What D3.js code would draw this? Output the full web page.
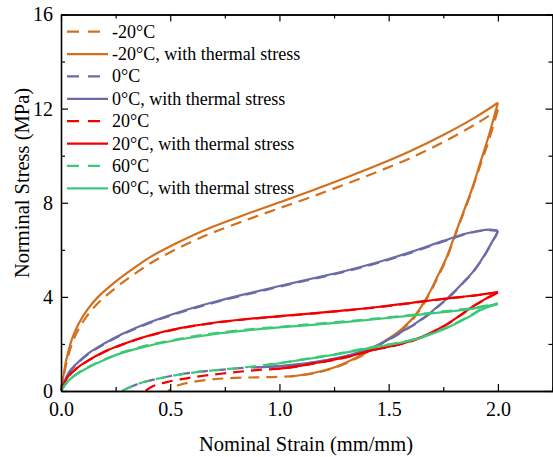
<!DOCTYPE html>
<html>
<head>
<meta charset="utf-8">
<script src="https://cdn.jsdelivr.net/npm/d3@7"></script>
<style>
  body { margin: 0; background: #fff; }
  text { font-family: 'Liberation Serif', 'Times New Roman', serif; fill: #000; }
</style>
</head>
<body>
<svg id="chart"></svg>
<script>
// strain (mm/mm), stress (MPa) pairs
const m20Load = [[0,0],[0.01,0.6],[0.025,1.35],[0.05,2.2],[0.08,2.85],[0.12,3.45],[0.17,4.0],[0.25,4.65],[0.33,5.2],[0.41,5.7],[0.5,6.15],[0.6,6.6],[0.7,7.0],[0.85,7.52],[1.0,8.02],[1.15,8.52],[1.3,9.05],[1.45,9.6],[1.6,10.2],[1.75,10.88],[1.9,11.65],[2.0,12.25]];
const m20LoadDash = [[0,0],[0.01,0.5],[0.025,1.2],[0.05,2.0],[0.08,2.62],[0.12,3.2],[0.17,3.74],[0.25,4.38],[0.33,4.93],[0.41,5.43],[0.5,5.9],[0.6,6.35],[0.7,6.75],[0.85,7.27],[1.0,7.77],[1.15,8.26],[1.3,8.78],[1.45,9.32],[1.6,9.9],[1.75,10.58],[1.9,11.35],[2.0,11.95]];
const m20Unload = [[2.0,12.25],[1.96,10.9],[1.916,9.6],[1.88,8.55],[1.84,7.55],[1.8,6.55],[1.764,5.65],[1.72,4.8],[1.688,4.2],[1.65,3.6],[1.611,3.1],[1.57,2.72],[1.535,2.45],[1.47,2.05],[1.4,1.65],[1.32,1.27],[1.25,1.0],[1.18,0.82],[1.1,0.68],[1.05,0.62]];
const m20UnloadDash = [[2.0,11.95],[1.96,10.7],[1.916,9.5],[1.88,8.5],[1.84,7.5],[1.8,6.5],[1.764,5.6],[1.72,4.75],[1.688,4.15],[1.65,3.55],[1.611,3.05],[1.57,2.68],[1.535,2.42],[1.47,2.02],[1.4,1.62],[1.32,1.24],[1.25,0.98],[1.18,0.8],[1.1,0.67],[1.0,0.6],[0.9,0.58],[0.8,0.56],[0.7,0.5],[0.6,0.38],[0.53,0.22],[0.49,0]];

const p0Load = [[0,0],[0.033,0.75],[0.07,1.15],[0.125,1.6],[0.2,2.03],[0.28,2.42],[0.4,2.9],[0.55,3.38],[0.7,3.78],[0.85,4.13],[1.0,4.46],[1.15,4.78],[1.3,5.1],[1.45,5.47],[1.6,5.9],[1.75,6.38],[1.85,6.68],[1.92,6.82],[1.96,6.86],[2.0,6.82]];
const p0LoadDash = [[0,0],[0.033,0.72],[0.07,1.12],[0.125,1.57],[0.2,2.0],[0.28,2.39],[0.4,2.87],[0.55,3.35],[0.7,3.75],[0.85,4.1],[1.0,4.43],[1.15,4.75],[1.3,5.07],[1.45,5.44],[1.6,5.87],[1.75,6.35],[1.85,6.66],[1.92,6.8],[1.96,6.84],[2.0,6.8]];
const p0Unload = [[2.0,6.82],[1.99,6.6],[1.977,6.4],[1.95,5.95],[1.916,5.45],[1.88,5.0],[1.84,4.6],[1.8,4.22],[1.764,3.9],[1.72,3.56],[1.688,3.3],[1.65,3.05],[1.611,2.8],[1.57,2.58],[1.535,2.38],[1.5,2.2],[1.46,2.0],[1.4,1.76],[1.32,1.53],[1.25,1.38],[1.17,1.25],[1.1,1.15],[1.0,1.06],[0.88,1.0]];
const p0UnloadDash = [[2.0,6.8],[1.99,6.58],[1.977,6.38],[1.95,5.93],[1.916,5.43],[1.88,4.98],[1.84,4.58],[1.8,4.2],[1.764,3.88],[1.72,3.54],[1.688,3.28],[1.65,3.03],[1.611,2.78],[1.57,2.56],[1.535,2.36],[1.5,2.18],[1.46,1.98],[1.4,1.74],[1.32,1.51],[1.25,1.36],[1.17,1.23],[1.1,1.13],[1.0,1.05],[0.864,1.0],[0.758,0.92],[0.636,0.82],[0.529,0.68],[0.453,0.54],[0.361,0.33],[0.277,0]];

const r20Load = [[0,0],[0.033,0.62],[0.07,0.95],[0.125,1.3],[0.2,1.68],[0.28,1.98],[0.4,2.35],[0.55,2.68],[0.7,2.9],[0.85,3.06],[1.0,3.18],[1.15,3.3],[1.3,3.43],[1.45,3.57],[1.6,3.74],[1.75,3.92],[1.9,4.07],[2.0,4.2]];
const r20LoadDash = [[0,0],[0.033,0.61],[0.07,0.94],[0.125,1.29],[0.2,1.67],[0.28,1.97],[0.4,2.34],[0.55,2.67],[0.7,2.89],[0.85,3.05],[1.0,3.17],[1.15,3.29],[1.3,3.42],[1.45,3.56],[1.6,3.73],[1.75,3.91],[1.9,4.06],[2.0,4.19]];
const r20Unload = [[2.0,4.2],[1.95,3.95],[1.9,3.68],[1.84,3.3],[1.8,3.04],[1.764,2.82],[1.72,2.6],[1.688,2.45],[1.65,2.29],[1.611,2.15],[1.56,2.01],[1.5,1.88],[1.44,1.77],[1.398,1.67],[1.32,1.47],[1.25,1.33],[1.17,1.2],[1.1,1.08],[1.0,0.95]];
const r20UnloadDash = [[2.0,4.19],[1.95,3.94],[1.9,3.67],[1.84,3.29],[1.8,3.03],[1.764,2.81],[1.72,2.59],[1.688,2.44],[1.65,2.28],[1.611,2.14],[1.56,2.0],[1.5,1.87],[1.44,1.76],[1.398,1.66],[1.32,1.46],[1.25,1.32],[1.17,1.19],[1.1,1.07],[1.017,0.96],[0.895,0.89],[0.788,0.79],[0.68,0.68],[0.575,0.54],[0.483,0.38],[0.42,0.2],[0.385,0]];

const g60Load = [[0,0],[0.033,0.42],[0.07,0.7],[0.125,1.0],[0.2,1.33],[0.28,1.62],[0.4,1.92],[0.55,2.2],[0.7,2.42],[0.85,2.58],[1.0,2.7],[1.15,2.81],[1.3,2.93],[1.45,3.06],[1.6,3.2],[1.75,3.35],[1.9,3.52],[2.0,3.7]];
const g60LoadDash = [[0,0],[0.033,0.44],[0.07,0.72],[0.125,1.02],[0.2,1.35],[0.28,1.64],[0.4,1.95],[0.55,2.23],[0.7,2.45],[0.85,2.61],[1.0,2.73],[1.15,2.84],[1.3,2.96],[1.45,3.09],[1.6,3.23],[1.75,3.38],[1.9,3.55],[2.0,3.72]];
const g60Unload = [[2.0,3.7],[1.95,3.55],[1.916,3.42],[1.88,3.22],[1.84,3.02],[1.8,2.83],[1.764,2.67],[1.72,2.51],[1.688,2.39],[1.65,2.27],[1.611,2.17],[1.55,2.04],[1.5,1.96],[1.459,1.9],[1.398,1.8],[1.32,1.66],[1.245,1.53],[1.17,1.42],[1.093,1.31],[1.017,1.2],[0.94,1.1]];
const g60UnloadDash = [[2.0,3.72],[1.95,3.57],[1.916,3.44],[1.88,3.24],[1.84,3.04],[1.8,2.85],[1.764,2.69],[1.72,2.53],[1.688,2.41],[1.65,2.29],[1.611,2.19],[1.55,2.06],[1.5,1.98],[1.459,1.92],[1.398,1.82],[1.32,1.68],[1.245,1.55],[1.17,1.44],[1.093,1.32],[1.017,1.21],[0.94,1.11],[0.864,1.03],[0.758,0.93],[0.636,0.82],[0.529,0.68],[0.453,0.54],[0.361,0.33],[0.277,0]];

const seriesNames = ['-20\u00b0C', '-20\u00b0C, with thermal stress', '0\u00b0C', '0\u00b0C, with thermal stress',
  '20\u00b0C', '20\u00b0C, with thermal stress', '60\u00b0C', '60\u00b0C, with thermal stress'];
const seriesColors = ['#D2701E', '#D2701E', '#6B6BA8', '#6B6BA8', '#F20000', '#F20000', '#3CC878', '#3CC878'];
const seriesDashed = [true, false, true, false, true, false, true, false];
const seriesParts = [
  [m20LoadDash, m20UnloadDash], [m20Load, m20Unload],
  [p0LoadDash, p0UnloadDash], [p0Load, p0Unload],
  [r20LoadDash, r20UnloadDash], [r20Load, r20Unload],
  [g60LoadDash, g60UnloadDash], [g60Load, g60Unload]
];

const xMajor = [0, 0.5, 1.0, 1.5, 2.0];
const xMinor = [0.25, 0.75, 1.25, 1.75, 2.25];
const yMajor = [0, 4, 8, 12, 16];
const yMinor = [2, 6, 10, 14];

const width = 553;
const height = 457;
const margin = { top: 14.5, right: 0.5, bottom: 66, left: 61 };

const svg = d3.select('#chart')
  .attr('width', width)
  .attr('height', height);

const x = d3.scaleLinear()
  .domain([0, 2.25])
  .range([margin.left, width - margin.right]);

const y = d3.scaleLinear()
  .domain([0, 16])
  .range([height - margin.bottom, margin.top]);

const line = d3.line()
  .x(d => x(d[0]))
  .y(d => y(d[1]))
  .curve(d3.curveCatmullRom.alpha(0.5));

// curves
const curves = svg.append('g');
seriesParts.forEach((parts, i) => {
  parts.forEach(part => {
    curves.append('path')
      .attr('d', line(part))
      .attr('fill', 'none')
      .attr('stroke', seriesColors[i])
      .attr('stroke-width', 2.2)
      .attr('stroke-linejoin', 'round')
      .attr('stroke-dasharray', seriesDashed[i] ? '11,7' : null);
  });
});

// axes
const styleAxis = g => {
  g.select('.domain').attr('stroke', '#000').attr('stroke-width', 1.3);
  g.selectAll('.tick line').attr('stroke', '#000').attr('stroke-width', 1.2);
  g.selectAll('.tick text')
    .style('font-family', "'Liberation Serif', serif")
    .attr('font-size', 20)
    .attr('fill', '#000');
};

const yb = height - margin.bottom;
const xr = width - margin.right;

svg.append('g')
  .attr('transform', `translate(0,${yb})`)
  .call(d3.axisBottom(x).tickValues(xMinor).tickSize(-4).tickSizeOuter(0).tickFormat(''))
  .call(styleAxis);
svg.append('g')
  .attr('transform', `translate(0,${yb})`)
  .call(d3.axisBottom(x).tickValues(xMajor).tickSize(-7).tickSizeOuter(0).tickPadding(11).tickFormat(d3.format('.1f')))
  .call(styleAxis);

svg.append('g')
  .attr('transform', `translate(0,${margin.top})`)
  .call(d3.axisTop(x).tickValues(xMinor).tickSize(-4).tickSizeOuter(0).tickFormat(''))
  .call(styleAxis);
svg.append('g')
  .attr('transform', `translate(0,${margin.top})`)
  .call(d3.axisTop(x).tickValues(xMajor).tickSize(-7).tickSizeOuter(0).tickFormat(''))
  .call(styleAxis);

svg.append('g')
  .attr('transform', `translate(${margin.left},0)`)
  .call(d3.axisLeft(y).tickValues(yMinor).tickSize(-4).tickSizeOuter(0).tickFormat(''))
  .call(styleAxis);
svg.append('g')
  .attr('transform', `translate(${margin.left},0)`)
  .call(d3.axisLeft(y).tickValues(yMajor).tickSize(-7).tickSizeOuter(0).tickPadding(8).tickFormat(d3.format('d')))
  .call(styleAxis);

svg.append('g')
  .attr('transform', `translate(${xr},0)`)
  .call(d3.axisRight(y).tickValues(yMinor).tickSize(-4).tickSizeOuter(0).tickFormat(''))
  .call(styleAxis);
svg.append('g')
  .attr('transform', `translate(${xr},0)`)
  .call(d3.axisRight(y).tickValues(yMajor).tickSize(-7).tickSizeOuter(0).tickFormat(''))
  .call(styleAxis);

// axis titles
svg.append('text')
  .attr('x', 306)
  .attr('y', 451)
  .attr('text-anchor', 'middle')
  .attr('font-size', 20.5)
  .text('Nominal Strain (mm/mm)');

svg.append('text')
  .attr('transform', 'translate(29,183) rotate(-90)')
  .attr('text-anchor', 'middle')
  .attr('font-size', 20.5)
  .text('Norminal Stress (MPa)');

// legend
const legend = svg.append('g')
  .selectAll('g')
  .data(seriesNames)
  .join('g')
  .attr('transform', (d, i) => `translate(67,${31.7 + i * 22.37})`);

legend.append('line')
  .attr('x1', 0)
  .attr('x2', 41)
  .attr('stroke', (d, i) => seriesColors[i])
  .attr('stroke-width', 2.2)
  .attr('stroke-dasharray', (d, i) => seriesDashed[i] ? '12,9' : null);

legend.append('text')
  .attr('x', 45)
  .attr('y', 6)
  .attr('font-size', 18)
  .text(d => d);
</script>
</body>
</html>
